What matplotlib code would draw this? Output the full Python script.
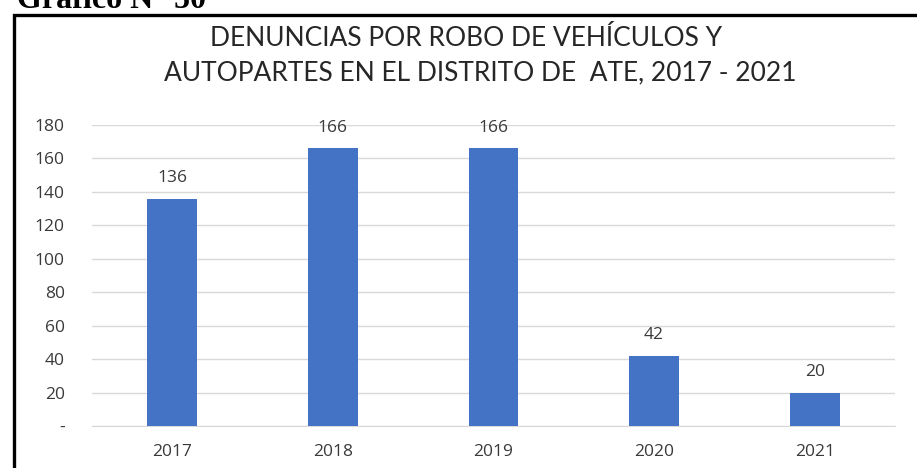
#!/usr/bin/env python
"""
plot.py - denuncias por robo de vehiculos y autopartes, Ate 2017-2021
"""

import matplotlib
matplotlib.use("Agg")
import matplotlib.pyplot as plt
from matplotlib.patches import Rectangle


## Data
years = ["2017", "2018", "2019", "2020", "2021"]
cases = [136, 166, 166, 42, 20]
y_ticks = [0, 20, 40, 60, 80, 100, 120, 140, 160, 180]
y_tick_labels = ["-", "20", "40", "60", "80", "100", "120", "140", "160", "180"]

BAR_COLOR = "#4472C4"
GRID_COLOR = "#D9D9D9"
TEXT_COLOR = "#3A3A3A"

fig = plt.figure(figsize=(9.17, 4.68), dpi=100)
fig.patch.set_facecolor("white")

# Black frame round the chart (runs off the right and bottom edges)
frame = Rectangle((13.5 / 917, -0.05), 1.0, 1 - 14.5 / 468 + 0.05,
                  transform=fig.transFigure, fill=False,
                  edgecolor="black", linewidth=2.4, clip_on=False)
fig.patches.append(frame)

# Caption above the frame, mostly cut off at the top
fig.text(17 / 917, 1 - 8 / 468, "Gráfico N° 50", family="Liberation Serif",
         weight="bold", fontsize=23, ha="left", va="baseline")

ax = fig.add_axes([92 / 917, 1 - 426 / 468, (895 - 92) / 917, (426 - 125) / 468])
x = range(len(years))
bars = ax.bar(x, cases, width=0.31, color=BAR_COLOR, zorder=3)

ax.set_xlim(-0.5, len(years) - 0.5)
ax.set_ylim(0, 180)
ax.set_yticks(y_ticks)
ax.set_yticklabels(y_tick_labels)
ax.set_xticks(list(x))
ax.set_xticklabels(years)
ax.grid(axis="y", color=GRID_COLOR, linewidth=1, zorder=0)
for side in ["top", "right", "left"]:
    ax.spines[side].set_visible(False)
ax.spines["bottom"].set_color(GRID_COLOR)
ax.tick_params(axis="both", length=0, labelsize=12.5, colors=TEXT_COLOR,
               labelfontfamily="Open Sans")
ax.tick_params(axis="y", pad=19.5)
ax.tick_params(axis="x", pad=13)

for b, v in zip(bars, cases):
    ax.annotate(str(v), (b.get_x() + b.get_width() / 2, v), xytext=(0, 9),
                textcoords="offset points", ha="center", va="bottom",
                fontsize=12.5, color=TEXT_COLOR, family="Open Sans")

fig.text(466 / 917, 1 - 38 / 468, "DENUNCIAS POR ROBO DE VEHÍCULOS Y",
         ha="center", va="center", fontsize=19, family="Lato", color="#262626")
fig.text(480 / 917, 1 - 73 / 468, "AUTOPARTES EN EL DISTRITO DE  ATE, 2017 - 2021",
         ha="center", va="center", fontsize=19, family="Lato", color="#262626")

fig.savefig("out.png", dpi=100, facecolor="white")
